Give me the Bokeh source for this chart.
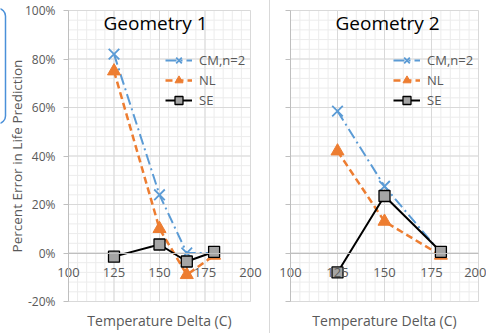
import math
from bokeh.plotting import figure
from bokeh.models import (Range1d, FixedTicker, PrintfTickFormatter, Legend, LegendItem,
                          Label, LinearAxis, CustomJSTickFormatter, Quad)
from bokeh.layouts import row
from bokeh.embed import file_html
from bokeh.resources import INLINE

# ---- data ----
temps1 = [125, 150, 165, 180]
cm1 = [82, 24, 0, 0]
nl1 = [75, 10, -9, -1]
se1 = [-1.5, 3.5, -3.5, 0.5]

temps2 = [125, 150, 180]
cm2 = [58.5, 27.5, 0]
nl2 = [42, 13, -1]
se2 = [-8, 23.5, 0.5]

x_ticks = [100, 125, 150, 175, 200]
y_ticks = [-20, 0, 20, 40, 60, 80, 100]
x_minor = list(range(100, 201, 5))
y_minor = list(range(-20, 101, 4))

titles = ["Geometry 1", "Geometry 2"]
series_names = ["CM,n=2", "NL", "SE"]
y_title = "Percent Error in Life Prediction"
x_title = "Temperature Delta (C)"

BLUE = "#5B9BD5"
ORANGE = "#ED7D31"
GREY_TXT = "#595959"
FONT = "Open Sans"
H = 333
TOP_PX, BOT_PX = 10, 301   # pixel rows of y=100 and y=-20


def make_panel(title, title_dx, temps, cm, nl, se, width, left_px, right_px,
               show_ylabels, legend_x):
    xmin, xmax = x_ticks[0], x_ticks[-1]
    ymin, ymax = y_ticks[0], y_ticks[-1]
    sx = (right_px - left_px) / (xmax - xmin)
    sy = (BOT_PX - TOP_PX) / (ymax - ymin)
    xr = Range1d(xmin - left_px / sx, xmax + (width - right_px) / sx)
    yr = Range1d(ymin - (H - BOT_PX) / sy, ymax + TOP_PX / sy)

    p = figure(width=width, height=H, output_backend="svg", toolbar_location=None,
               x_range=xr, y_range=yr,
               min_border_left=0, min_border_right=0, min_border_top=0,
               min_border_bottom=0,
               background_fill_color="white", border_fill_color="white")
    p.outline_line_color = None
    p.xgrid.visible = False
    p.ygrid.visible = False

    # grid lines drawn from the tick arrays, limited to the plot area
    p.segment(x0=x_minor, y0=[ymin] * len(x_minor), x1=x_minor, y1=[ymax] * len(x_minor),
              line_color="#ececec", line_width=1)
    p.segment(x0=[xmin] * len(y_minor), y0=y_minor, x1=[xmax] * len(y_minor), y1=y_minor,
              line_color="#ececec", line_width=1)
    p.segment(x0=x_ticks, y0=[ymin] * len(x_ticks), x1=x_ticks, y1=[ymax] * len(x_ticks),
              line_color="#d9d9d9", line_width=1)
    p.segment(x0=[xmin] * len(y_ticks), y0=y_ticks, x1=[xmax] * len(y_ticks), y1=y_ticks,
              line_color="#d9d9d9", line_width=1)

    # x axis crossing at y=0
    xa = p.xaxis[0]
    xa.ticker = FixedTicker(ticks=x_ticks)
    xa.fixed_location = 0
    xa.bounds = (xmin, xmax)
    xa.axis_line_color = "#bfbfbf"
    xa.major_tick_out = 0
    xa.major_tick_in = 0
    xa.minor_tick_out = 0
    xa.minor_tick_in = 0
    xa.major_label_standoff = 15
    xa.major_label_text_font = FONT
    xa.major_label_text_font_size = "13px"
    xa.major_label_text_color = GREY_TXT

    # bottom axis at y=-20 carrying only the title
    xb = LinearAxis(ticker=FixedTicker(ticks=[]), axis_label=x_title,
                    fixed_location=ymin, bounds=(xmin, xmax),
                    axis_line_color=None, major_tick_out=0, minor_tick_out=0,
                    major_label_text_font_size="0px")
    xb.axis_label_text_font = FONT
    xb.axis_label_text_font_size = "14px"
    xb.axis_label_text_font_style = "normal"
    xb.axis_label_text_color = GREY_TXT
    xb.axis_label_standoff = 9
    p.add_layout(xb, "below")

    ya = p.yaxis[0]
    ya.ticker = FixedTicker(ticks=y_ticks)
    ya.fixed_location = xmin
    ya.bounds = (ymin, ymax)
    ya.axis_line_color = "#bfbfbf"
    ya.major_tick_line_color = "#bfbfbf"
    ya.major_tick_out = 5
    ya.major_tick_in = 0
    ya.minor_tick_out = 0
    ya.minor_tick_in = 0
    if show_ylabels:
        ya.formatter = PrintfTickFormatter(format="%d%%")
        ya.major_label_text_font = FONT
        ya.major_label_text_font_size = "12px"
        ya.major_label_text_color = GREY_TXT
        ya.major_label_standoff = 8
        # vertical axis title placed as a rotated label
        p.add_layout(Label(x=16, y=H - (TOP_PX + BOT_PX) / 2, x_units="screen",
                           y_units="screen", text=y_title, angle=math.pi / 2,
                           text_align="center", text_baseline="middle",
                           text_font=FONT, text_font_size="13.5px",
                           text_color=GREY_TXT))
    else:
        ya.formatter = CustomJSTickFormatter(code="return ''")
        ya.major_label_standoff = 0

    # series
    l_cm = p.line(temps, cm, line_color=BLUE, line_width=2, line_dash="11 4 2 4")
    s_cm = p.scatter(temps, cm, marker="x", size=15, line_color=BLUE, line_width=1.8)
    l_nl = p.line(temps, nl, line_color=ORANGE, line_width=2.5, line_dash="7 4")
    s_nl = p.scatter(temps, nl, marker="triangle", size=13, fill_color=ORANGE,
                     line_color=ORANGE)
    l_se = p.line(temps, se, line_color="black", line_width=2)
    s_se = p.scatter(temps, se, marker="square", size=11, fill_color="#a5a5a5",
                     line_color="black", line_width=1.3)

    legend = Legend(items=[LegendItem(label=series_names[0], renderers=[l_cm, s_cm]),
                           LegendItem(label=series_names[1], renderers=[l_nl, s_nl]),
                           LegendItem(label=series_names[2], renderers=[l_se, s_se])],
                    location=(legend_x, H - 110))
    legend.background_fill_alpha = 0
    legend.border_line_color = None
    legend.padding = 0
    legend.margin = 0
    legend.spacing = 0
    legend.glyph_width = 27
    legend.glyph_height = 20
    legend.label_height = 20
    legend.label_standoff = 7
    legend.label_text_font = FONT
    legend.label_text_font_size = "13px"
    legend.label_text_color = GREY_TXT
    p.add_layout(legend, "center")

    p.add_layout(Label(x=(left_px + right_px) / 2 + title_dx, y=H - 22, x_units="screen",
                       y_units="screen", text=title, text_align="center",
                       text_baseline="middle", text_font=FONT,
                       text_font_size="19px", text_color="black"))
    return p, xr, yr, sx, sy


p1, xr1, yr1, sx1, sy1 = make_panel(titles[0], -4, temps1, cm1, nl1, se1,
                                    269, 68, 250, True, 165)

# cropped callout box at the left edge of the picture (pixel box -10..5 x 8..123)
bl, br = xr1.start - 10 / sx1, xr1.start + 5 / sx1
bt, bb = yr1.end - 8 / sy1, yr1.end - 123 / sy1
if "border_radius" in Quad.properties():
    p1.quad(left=[bl], right=[br], top=[bt], bottom=[bb], fill_color=None,
            line_color="#4a90d9", line_width=1.5, border_radius=8)
else:
    p1.quad(left=[bl], right=[br], top=[bt], bottom=[bb], fill_color=None,
            line_color="#4a90d9", line_width=1.5)

p2, _, _, _, _ = make_panel(titles[1], 3, temps2, cm2, nl2, se2, 217, 20, 208, False, 123)
p2.styles = {"border-left": "1px solid #d9d9d9"}

layout = row(p1, p2)
open("out.html", "w").write(file_html(layout, INLINE))
